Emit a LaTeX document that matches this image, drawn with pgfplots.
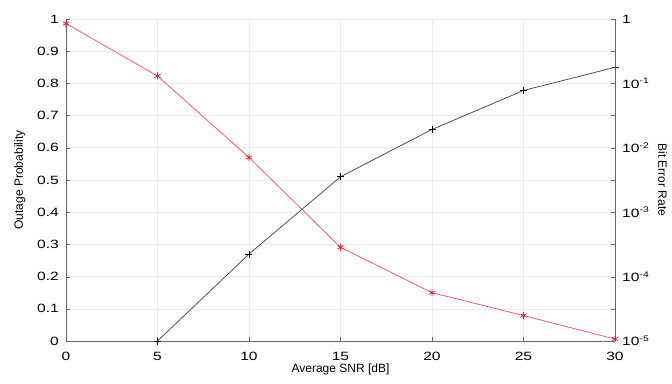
\documentclass[border=0pt]{standalone}
\usepackage{pgfplots}
\pgfplotsset{compat=1.18}
\usetikzlibrary{calc}
\usepackage{fontspec}
\setmainfont{Liberation Sans}
\definecolor{redline}{RGB}{240,95,105}
\definecolor{redmark}{RGB}{230,20,40}
\definecolor{blkline}{RGB}{80,80,80}
\begin{document}
\begin{tikzpicture}[x=1pt,y=1pt]
\begin{axis}[name=main,
  scale only axis, width=549pt, height=322pt,
  xmin=0, xmax=30, ymin=0, ymax=1,
  xtick={0,5,...,30}, ytick={0,0.1,...,1},
  yticklabels={0,0.1,0.2,0.3,0.4,0.5,0.6,0.7,0.8,0.9,1},
  xticklabels={0,5,10,15,20,25,30},
  axis y line*=left, axis x line*=bottom,
  grid=major, major grid style={gray!15, line width=0.6pt},
  axis line style={gray!80!black, line width=0.8pt},
  tick style={gray!80!black},
  tick align=inside, major tick length=4pt,
  ticklabel style={font=\fontsize{12}{14}\selectfont, xscale=1.3},
  xticklabel style={yshift=-8pt},
  yticklabel style={xshift=-2pt},
  xlabel={Average SNR [dB]}, ylabel={Outage Probability},
  label style={font=\fontsize{12}{14}\selectfont},
  xlabel style={yshift=4pt},
  ylabel style={yshift=4pt},
  clip=false,
]
\addplot[color=redline, line width=0.8pt, mark=asterisk, mark size=3.5pt, mark options={color=redmark, line width=0.7pt}]
  coordinates {(0,0.986) (5,0.823) (10,0.570) (15,0.291) (20,0.150) (25,0.079) (30,0.006)};
\addplot[color=blkline, line width=0.8pt, mark=+, mark size=3.5pt, mark options={color=black, line width=0.6pt}]
  coordinates {(5,0.0) (10,0.270) (15,0.510) (20,0.657) (25,0.778) (30,0.850)};
\end{axis}
\begin{axis}[
  scale only axis, width=549pt, height=322pt,
  xmin=0, xmax=30, ymin=0, ymax=1,
  axis y line*=right, axis x line=none,
  ytick={0,0.2,...,1},
  minor ytick={0.1,0.3,0.5,0.7,0.9},
  yticklabels={10\textsuperscript{-5},10\textsuperscript{-4},10\textsuperscript{-3},10\textsuperscript{-2},10\textsuperscript{-1},1},
  axis line style={gray!80!black, line width=0.8pt},
  tick style={gray!80!black},
  tick align=inside, major tick length=4pt, minor tick length=4pt,
  ticklabel style={font=\fontsize{12}{14}\selectfont, xscale=1.3},
  yticklabel style={xshift=2pt},
  ylabel={Bit Error Rate},
  ylabel style={rotate=180, font=\fontsize{12}{14}\selectfont, yshift=1pt},
]
\end{axis}
\pgfresetboundingbox
\path ($(main.south west)+(-66pt,-42pt)$) rectangle ($(main.north east)+(57pt,19pt)$);
\end{tikzpicture}
\end{document}
